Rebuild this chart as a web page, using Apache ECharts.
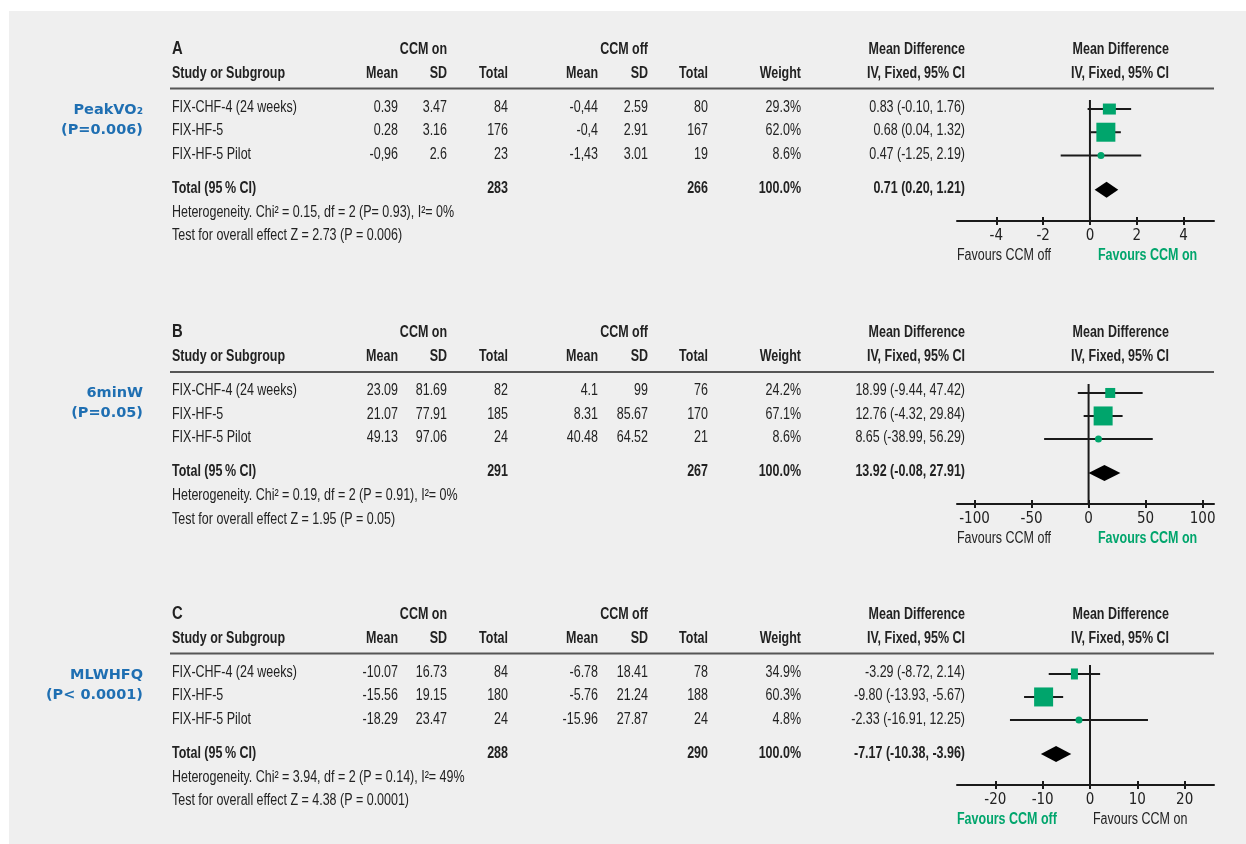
<!DOCTYPE html>
<html>
<head>
<meta charset="utf-8">
<title>CCM meta-analysis forest plots</title>
<script src="https://cdn.jsdelivr.net/npm/echarts@6/dist/echarts.min.js"></script>
<style>
  html, body { margin: 0; padding: 0; background: #ffffff; }
  #chart { width: 1246px; height: 844px; }
</style>
</head>
<body>
<div id="chart"></div>
<script>
// ---- Study rows (shared by all three outcomes) ----
const studies = ['FIX-CHF-4 (24 weeks)', 'FIX-HF-5', 'FIX-HF-5 Pilot'];

// ---- A: Peak VO2 ----
const aOnMean = ['0.39', '0.28', '-0,96'];
const aOnSD = ['3.47', '3.16', '2.6'];
const aOnN = [84, 176, 23];
const aOffMean = ['-0,44', '-0,4', '-1,43'];
const aOffSD = ['2.59', '2.91', '3.01'];
const aOffN = [80, 167, 19];
const aWeight = [29.3, 62.0, 8.6];
const aMD = [0.83, 0.68, 0.47];
const aLo = [-0.10, 0.04, -1.25];
const aHi = [1.76, 1.32, 2.19];
const aTotalOn = 283, aTotalOff = 266, aTotalWeight = 100.0;
const aPooled = [0.71, 0.20, 1.21];
const aHet = 'Heterogeneity. Chi\u00B2 = 0.15, df = 2 (P= 0.93), I\u00B2= 0%';
const aTest = 'Test for overall effect Z = 2.73 (P = 0.006)';
const aTicks = [-4, -2, 0, 2, 4];

// ---- B: 6-minute walk ----
const bOnMean = ['23.09', '21.07', '49.13'];
const bOnSD = ['81.69', '77.91', '97.06'];
const bOnN = [82, 185, 24];
const bOffMean = ['4.1', '8.31', '40.48'];
const bOffSD = ['99', '85.67', '64.52'];
const bOffN = [76, 170, 21];
const bWeight = [24.2, 67.1, 8.6];
const bMD = [18.99, 12.76, 8.65];
const bLo = [-9.44, -4.32, -38.99];
const bHi = [47.42, 29.84, 56.29];
const bTotalOn = 291, bTotalOff = 267, bTotalWeight = 100.0;
const bPooled = [13.92, -0.08, 27.91];
const bHet = 'Heterogeneity. Chi\u00B2 = 0.19, df = 2 (P = 0.91), I\u00B2= 0%';
const bTest = 'Test for overall effect Z = 1.95 (P = 0.05)';
const bTicks = [-100, -50, 0, 50, 100];

// ---- C: MLWHFQ ----
const cOnMean = ['-10.07', '-15.56', '-18.29'];
const cOnSD = ['16.73', '19.15', '23.47'];
const cOnN = [84, 180, 24];
const cOffMean = ['-6.78', '-5.76', '-15.96'];
const cOffSD = ['18.41', '21.24', '27.87'];
const cOffN = [78, 188, 24];
const cWeight = [34.9, 60.3, 4.8];
const cMD = [-3.29, -9.80, -2.33];
const cLo = [-8.72, -13.93, -16.91];
const cHi = [2.14, -5.67, 12.25];
const cTotalOn = 288, cTotalOff = 290, cTotalWeight = 100.0;
const cPooled = [-7.17, -10.38, -3.96];
const cHet = 'Heterogeneity. Chi\u00B2 = 3.94, df = 2 (P = 0.14), I\u00B2= 49%';
const cTest = 'Test for overall effect Z = 4.38 (P = 0.0001)';
const cTicks = [-20, -10, 0, 10, 20];

// ---- Look & layout ----
const FONT = "'Liberation Sans', Arial, sans-serif";
const NARROW = 0.78;            // horizontal squeeze for a narrow face
const TEXT_NUDGE = 1.5;         // optical baseline correction for the squeezed face
const SIDE_FONT = "'DejaVu Sans', 'Noto Sans', sans-serif";
const INK = '#222222';
const GREEN = '#00a56c';
const BLUE = '#1f6fb2';
const ROW_MIN = -0.39, ROW_MAX = 4.83, TOTAL_ROW = 3.48;

const panels = [
  { letter: 'A', side: ['PeakVO\u2082', '(P=0.006)'], dy: 0, gridTop: 100, gridH: 121,
    xMin: -5.68, xMax: 5.3, ticks: aTicks, greenRight: true,
    onMean: aOnMean, onSD: aOnSD, onN: aOnN, offMean: aOffMean, offSD: aOffSD, offN: aOffN,
    weight: aWeight, md: aMD, lo: aLo, hi: aHi, totOn: aTotalOn, totOff: aTotalOff, totW: aTotalWeight,
    pooled: aPooled, het: aHet, test: aTest,
    boxes: [[13, 11], [19, 19], [7, 7]] },
  { letter: 'B', side: ['6minW', '(P=0.05)'], dy: 283.5, gridTop: 384, gridH: 120,
    xMin: -115.4, xMax: 110, ticks: bTicks, greenRight: true,
    onMean: bOnMean, onSD: bOnSD, onN: bOnN, offMean: bOffMean, offSD: bOffSD, offN: bOffN,
    weight: bWeight, md: bMD, lo: bLo, hi: bHi, totOn: bTotalOn, totOff: bTotalOff, totW: bTotalWeight,
    pooled: bPooled, het: bHet, test: bTest,
    boxes: [[10, 10], [19, 19], [7, 7]] },
  { letter: 'C', side: ['MLWHFQ', '(P< 0.0001)'], dy: 565, gridTop: 665, gridH: 120,
    xMin: -28.1, xMax: 26.2, ticks: cTicks, greenRight: false,
    onMean: cOnMean, onSD: cOnSD, onN: cOnN, offMean: cOffMean, offSD: cOffSD, offN: cOffN,
    weight: cWeight, md: cMD, lo: cLo, hi: cHi, totOn: cTotalOn, totOff: cTotalOff, totW: cTotalWeight,
    pooled: cPooled, het: cHet, test: cTest,
    boxes: [[7, 11], [19, 19], [7, 7]] }
];

const fmt2 = v => v.toFixed(2);
const ciText = (m, l, h) => fmt2(m) + ' (' + fmt2(l) + ', ' + fmt2(h) + ')';

function txt(x, y, text, opts) {
  opts = opts || {};
  const bold = opts.bold ? 'bold ' : '';
  const size = opts.size || 16;
  const squeeze = opts.wide ? 1 : NARROW;
  return {
    type: 'text', x: x, y: y + (opts.wide ? 0 : TEXT_NUDGE), scaleX: squeeze, silent: true, z: 10,
    style: {
      x: 0, y: 0,
      text: text,
      font: bold + size + 'px ' + (opts.family || FONT),
      fill: opts.color || INK,
      align: opts.align || 'left',
      verticalAlign: 'middle',
      textAlign: opts.align || 'left',
      textVerticalAlign: 'middle'
    }
  };
}

const graphics = [
  { type: 'rect', shape: { x: 9, y: 11, width: 1237, height: 833 }, style: { fill: '#efefef' }, z: -10, silent: true }
];

// table column right edges
const COL = { onMean: 398, onSD: 447, onN: 508, offMean: 598, offSD: 648, offN: 708, weight: 801, ci: 965, plotHead: 1169 };

panels.forEach(p => {
  const d = p.dy;
  const hy1 = 48 + d, hy2 = 72 + d;
  graphics.push(txt(172, hy1 - 1, p.letter, { bold: true, size: 19 }));
  graphics.push(txt(COL.onSD, hy1, 'CCM on', { bold: true, align: 'right' }));
  graphics.push(txt(COL.offSD, hy1, 'CCM off', { bold: true, align: 'right' }));
  graphics.push(txt(COL.ci, hy1, 'Mean Difference', { bold: true, align: 'right' }));
  graphics.push(txt(COL.plotHead, hy1, 'Mean Difference', { bold: true, align: 'right' }));
  graphics.push(txt(172, hy2, 'Study or Subgroup', { bold: true }));
  graphics.push(txt(COL.onMean, hy2, 'Mean', { bold: true, align: 'right' }));
  graphics.push(txt(COL.onSD, hy2, 'SD', { bold: true, align: 'right' }));
  graphics.push(txt(COL.onN, hy2, 'Total', { bold: true, align: 'right' }));
  graphics.push(txt(COL.offMean, hy2, 'Mean', { bold: true, align: 'right' }));
  graphics.push(txt(COL.offSD, hy2, 'SD', { bold: true, align: 'right' }));
  graphics.push(txt(COL.offN, hy2, 'Total', { bold: true, align: 'right' }));
  graphics.push(txt(COL.weight, hy2, 'Weight', { bold: true, align: 'right' }));
  graphics.push(txt(COL.ci, hy2, 'IV, Fixed, 95% CI', { bold: true, align: 'right' }));
  graphics.push(txt(COL.plotHead, hy2, 'IV, Fixed, 95% CI', { bold: true, align: 'right' }));
  // header rule
  graphics.push({ type: 'line', silent: true, z: 5,
    shape: { x1: 170, y1: 88.5 + d, x2: 1214, y2: 88.5 + d },
    style: { stroke: '#555555', lineWidth: 2 } });

  studies.forEach((s, i) => {
    const y = 106 + d + i * 23.5;
    graphics.push(txt(172, y, s));
    graphics.push(txt(COL.onMean, y, p.onMean[i], { align: 'right' }));
    graphics.push(txt(COL.onSD, y, p.onSD[i], { align: 'right' }));
    graphics.push(txt(COL.onN, y, String(p.onN[i]), { align: 'right' }));
    graphics.push(txt(COL.offMean, y, p.offMean[i], { align: 'right' }));
    graphics.push(txt(COL.offSD, y, p.offSD[i], { align: 'right' }));
    graphics.push(txt(COL.offN, y, String(p.offN[i]), { align: 'right' }));
    graphics.push(txt(COL.weight, y, p.weight[i].toFixed(1) + '%', { align: 'right' }));
    graphics.push(txt(COL.ci, y, ciText(p.md[i], p.lo[i], p.hi[i]), { align: 'right' }));
  });

  const ty = 187 + d;
  graphics.push(txt(172, ty, 'Total (95\u2009% CI)', { bold: true }));
  graphics.push(txt(COL.onN, ty, String(p.totOn), { bold: true, align: 'right' }));
  graphics.push(txt(COL.offN, ty, String(p.totOff), { bold: true, align: 'right' }));
  graphics.push(txt(COL.weight, ty, p.totW.toFixed(1) + '%', { bold: true, align: 'right' }));
  graphics.push(txt(COL.ci, ty, ciText(p.pooled[0], p.pooled[1], p.pooled[2]), { bold: true, align: 'right' }));
  graphics.push(txt(172, 211 + d, p.het));
  graphics.push(txt(172, 234.5 + d, p.test));

  // outcome label on the left
  graphics.push(txt(143, 110 + d, p.side[0], { bold: true, size: 14.5, family: SIDE_FONT, color: BLUE, align: 'right', wide: true }));
  graphics.push(txt(143, 130 + d, p.side[1], { bold: true, size: 14.5, family: SIDE_FONT, color: BLUE, align: 'right', wide: true }));

  // favours labels under the axis
  const fy = 254 + d - (p.letter === 'A' ? 0 : 0.5);
  graphics.push(txt(957, fy, 'Favours CCM off', p.greenRight ? {} : { bold: true, color: GREEN }));
  graphics.push(txt(p.greenRight ? 1098 : 1093, fy, 'Favours CCM on', p.greenRight ? { bold: true, color: GREEN } : {}));
});

const grids = [], xAxes = [], yAxes = [], series = [];
panels.forEach((p, k) => {
  grids.push({ left: 957, width: 257, top: p.gridTop, height: p.gridH });
  const tickStyle = { color: '#1a1a1a', width: 2 };
  xAxes.push({
    gridIndex: k, type: 'value', min: p.xMin, max: p.xMax, position: 'bottom',
    axisLine: { show: true, onZero: false, lineStyle: { color: '#1a1a1a', width: 2 } },
    axisTick: { show: true, customValues: p.ticks, length: 4, lineStyle: tickStyle },
    axisLabel: { show: true, customValues: p.ticks, margin: 8, fontSize: 15, fontFamily: "'DejaVu Sans Condensed', sans-serif", color: INK },
    splitLine: { show: false }
  });
  // second axis on the same baseline: tick stubs above the line
  xAxes.push({
    gridIndex: k, type: 'value', min: p.xMin, max: p.xMax, position: 'bottom',
    axisLine: { show: false, onZero: false },
    axisTick: { show: true, inside: true, customValues: p.ticks, length: 4, lineStyle: tickStyle },
    axisLabel: { show: false },
    splitLine: { show: false }
  });
  yAxes.push({ gridIndex: k, type: 'value', inverse: true, min: ROW_MIN, max: ROW_MAX, show: false });

  // line of no effect
  series.push({
    type: 'line', xAxisIndex: 2 * k, yAxisIndex: k, symbol: 'none', silent: true, z: 2,
    data: [[0, ROW_MIN], [0, ROW_MAX]],
    lineStyle: { color: '#1a1a1a', width: 2 }
  });

  // study estimates with 95% CI
  series.push({
    type: 'custom', xAxisIndex: 2 * k, yAxisIndex: k, silent: true, z: 3,
    data: p.md.map((m, i) => [m, p.lo[i], p.hi[i], i]),
    renderItem: (params, api) => {
      const i = params.dataIndex;
      const c = api.coord([api.value(0), api.value(3)]);
      const l = api.coord([api.value(1), api.value(3)]);
      const h = api.coord([api.value(2), api.value(3)]);
      const box = p.boxes[i];
      const marker = p.weight[i] < 10
        ? { type: 'circle', shape: { cx: c[0], cy: c[1], r: box[0] / 2 }, style: { fill: GREEN } }
        : { type: 'rect', shape: { x: c[0] - box[0] / 2, y: c[1] - box[1] / 2, width: box[0], height: box[1] }, style: { fill: GREEN } };
      return {
        type: 'group',
        children: [
          { type: 'line', shape: { x1: l[0], y1: l[1], x2: h[0], y2: h[1] }, style: { stroke: '#1a1a1a', lineWidth: 2 } },
          marker
        ]
      };
    }
  });

  // pooled estimate diamond
  series.push({
    type: 'custom', xAxisIndex: 2 * k, yAxisIndex: k, silent: true, z: 3,
    data: [[p.pooled[0], p.pooled[1], p.pooled[2], TOTAL_ROW]],
    renderItem: (params, api) => {
      const c = api.coord([api.value(0), api.value(3)]);
      const l = api.coord([api.value(1), api.value(3)]);
      const h = api.coord([api.value(2), api.value(3)]);
      const half = 8;
      return {
        type: 'polygon',
        shape: { points: [[l[0], c[1]], [c[0], c[1] - half], [h[0], c[1]], [c[0], c[1] + half]] },
        style: { fill: '#000000' }
      };
    }
  });
});

const chart = echarts.init(document.getElementById('chart'), null, { renderer: 'canvas' });
chart.setOption({
  backgroundColor: '#ffffff',
  animation: false,
  grid: grids,
  xAxis: xAxes,
  yAxis: yAxes,
  series: series,
  graphic: { elements: graphics }
});
</script>
</body>
</html>
